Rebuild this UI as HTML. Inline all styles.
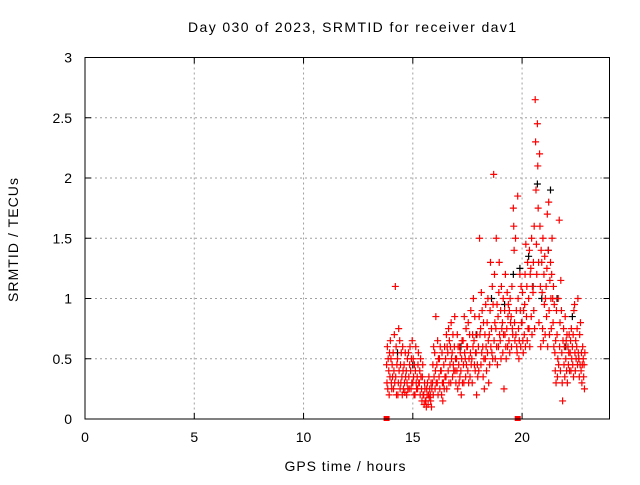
<!DOCTYPE html>
<html><head><meta charset="utf-8"><style>
html,body{margin:0;padding:0;background:#fff}
svg text{font-family:"Liberation Sans",sans-serif;font-size:14px;fill:#000}
</style></head><body>
<svg id="chart" width="640" height="480">
<text x="352" y="32" text-anchor="middle" textLength="328" lengthAdjust="spacing">Day 030 of 2023, SRMTID for receiver dav1</text>
<text x="345" y="471" text-anchor="middle" textLength="121" lengthAdjust="spacing">GPS time / hours</text>
<text transform="translate(18,240) rotate(-90)" text-anchor="middle" textLength="124" lengthAdjust="spacing">SRMTID / TECUs</text>
<g id="grid"></g><g id="black"></g><g id="red"></g><g id="axes"></g>
</svg>
<script>
const xTicks=[0,5,10,15,20];
const yTicks=[0,0.5,1,1.5,2,2.5,3];
const yTickLabels=["0","0.5","1","1.5","2","2.5","3"];
const times=[13.8,13.9,14.0,14.1,14.2,14.3,14.4,14.5,14.6,14.7,14.8,14.9,15.0,15.1,15.2,15.3,15.4,15.5,15.6,15.7,15.8,15.9,16.0,16.1,16.2,16.3,16.4,16.5,16.6,16.7,16.8,16.9,17.0,17.1,17.2,17.3,17.4,17.5,17.6,17.7,17.8,17.9,18.0,18.1,18.2,18.3,18.4,18.5,18.6,18.7,18.8,18.9,19.0,19.1,19.2,19.3,19.4,19.5,19.6,19.7,19.8,19.9,20.0,20.1,20.2,20.3,20.4,20.5,20.6,20.7,20.8,20.9,21.0,21.1,21.2,21.3,21.4,21.5,21.6,21.7,21.8,21.9,22.0,22.1,22.2,22.3,22.4,22.5,22.6,22.7,22.8];
const valsA=[.45,.4,.5,.55,1.1,.5,.65,.35,.45,.4,.55,.4,.3,.2,.35,.3,.25,.2,.15,.12,.2,.3,.55,.45,.35,.4,.3,.5,.55,.45,.55,.6,.5,.45,.4,.65,.5,.6,.7,.5,.65,.55,.6,.75,.6,.7,.8,.7,.75,2.03,.75,.85,.65,.8,.9,.75,.65,.85,1.75,1.5,1.85,1.2,.8,.7,.85,1.0,1.25,1.05,2.65,2.45,2.2,1.3,1.2,1.1,1.4,1.3,1.0,.55,.7,1.65,.9,.75,.5,.6,.55,.6,.95,.6,.5,.4,.5];
const valsB=[.3,.2,.3,.25,.35,.2,.25,.2,.3,.2,.35,.25,.5,.4,.25,.4,.15,.12,.1,.2,.15,.45,.25,.3,.5,.2,.45,.35,.4,.6,.35,.85,.4,.3,.2,.45,.35,.4,.35,.3,.45,.2,.4,.45,.35,.5,.55,.45,.55,.65,1.5,.6,.9,.55,.7,1.05,.9,.6,1.6,.7,1.0,.9,1.05,.95,1.1,.75,.85,1.3,2.3,2.1,1.6,1.05,.95,.85,1.8,1.0,.8,.4,.35,.6,.55,.45,.65,.45,.65,.45,.55,.75,.35,.55,.35];
const valsC=[.6,.55,.25,.4,.6,.3,.45,.6,.22,.3,.25,.5,.35,.6,.45,.2,.35,.3,.25,.35,.3,.2,.4,.65,.25,.55,.25,.7,.75,.3,.7,.4,.7,.6,.5,.3,.75,.8,.55,.7,.85,.7,.85,1.05,.8,.95,1.0,.9,1.1,1.2,.6,1.05,.5,1.0,1.2,.6,.55,1.1,1.4,.9,.75,.6,.65,1.2,.65,1.4,1.5,.9,1.9,1.75,1.1,.75,1.35,1.25,.9,.75,1.1,.65,.5,.8,.3,.6,.4,.55,.4,.7,.4,.45,.7,.3,.45];
const valsD=[.25,.35,.45,.7,.2,.75,.3,.4,.55,.5,.45,.3,.2,.3,.55,.5,.45,.25,.2,.18,.1,.6,.85,.2,.6,.3,.6,.25,.3,.8,.45,.5,.25,.35,.65,.85,.45,.3,.9,.6,.4,.45,1.5,.55,.5,.6,.65,1.3,.5,.8,.95,1.3,1.1,.7,.6,.85,1.0,.75,.8,.6,.5,1.1,.55,.6,1.3,.6,.7,1.6,1.45,1.3,.6,1.5,.7,1.7,.7,1.2,.6,.3,1.0,.4,.15,.35,.7,.7,.75,.35,.65,1.0,.45,.45,.25];
const valsE=[.5,.65,.35,.3,.45,.4,.55,.25,.35,.25,.6,.65,.45,.25,.3,.35,.2,.15,.3,.25,.25,.35,.3,.5,.4,.15,.35,.6,.65,.5,.4,.3,.6,.55,.3,.55,.6,.5,.45,1.0,.55,.35,.7,.9,.25,.4,.3,.6,.95,.5,.45,.7,.75,.25,.5,.95,.8,.7,.65,.55,.65,.8,.9,1.45,.75,1.2,1.1,.75,1.2,.8,1.4,.65,1.0,.6,1.15,1.5,.95,.9,.45,1.15,.65,.85,.3,.4,.5,.9,.5,.55,.8,.6,.55];
const blackTimes=[14.3,15.0,16.2,17.2,17.9,18.6,19.2,19.6,19.9,20.3,20.5,20.7,20.9,21.2,21.3,21.6,22.0,22.3,22.6];
const blackVals=[.55,.45,.5,.6,.7,1.0,.95,1.2,1.25,1.35,1.1,1.95,1.0,1.4,1.9,1.0,.6,.85,.5];
const markerTimes=[13.8,19.8];
const L=85,R=609.5,T=57.5,B=419;
function xs(v){return L+(v/24)*(R-L);}
function ys(v){return B-(v/3)*(B-T);}
const NS="http://www.w3.org/2000/svg";
function mk(tag,attrs,parent){const e=document.createElementNS(NS,tag);for(const k in attrs)e.setAttribute(k,attrs[k]);parent.appendChild(e);return e;}
const grid=document.getElementById('grid'),axes=document.getElementById('axes');
xTicks.forEach(t=>{const x=xs(t);
 if(t>0){const g=mk('line',{x1:x,x2:x,y1:T,y2:B,stroke:'#a0a0a0','stroke-dasharray':'2,3','stroke-width':1},grid);
 
 }
 const tk=mk('path',{d:`M${x},${B}v-6M${x},${T}v6`,stroke:'#000','stroke-width':1},axes);
 
 
 const lb=mk('text',{x:x,y:442,'text-anchor':'middle'},axes);lb.textContent=t;
 
 });
yTicks.forEach((t,i)=>{const y=ys(t);
 if(t>0&&t<3){const g=mk('line',{x1:L,x2:R,y1:y,y2:y,stroke:'#a0a0a0','stroke-dasharray':'2,3','stroke-width':1},grid);
 
 }
 const tk=mk('path',{d:`M${L},${y}h6M${R},${y}h-6`,stroke:'#000','stroke-width':1},axes);
 
 
 const lb=mk('text',{x:72,y:y+5,'text-anchor':'end'},axes);lb.textContent=yTickLabels[i];
 
 });
const frame=mk('rect',{x:L,y:T,width:R-L,height:B-T,fill:'none',stroke:'#000','stroke-width':1},axes);


function plus(x,y,col,parent,name){const p=mk('path',{d:`M${x-3.5},${y}h7M${x},${y-3.5}v7`,stroke:col,'stroke-width':1.2},parent);
 
 }
const black=document.getElementById('black'),red=document.getElementById('red');
blackTimes.forEach((t,i)=>plus(xs(t),ys(blackVals[i]),'#000',black,'black-point'));
[valsA,valsB,valsC,valsD,valsE].forEach((arr,k)=>times.forEach((t,i)=>plus(xs(t+k*0.018),ys(arr[i]),'#ff0000',red,'red-point')));
markerTimes.forEach(t=>{const r=mk('rect',{x:xs(t)-3,y:B-3,width:6,height:5,fill:'#ff0000'},red);
 
 });
</script>
</body></html>
